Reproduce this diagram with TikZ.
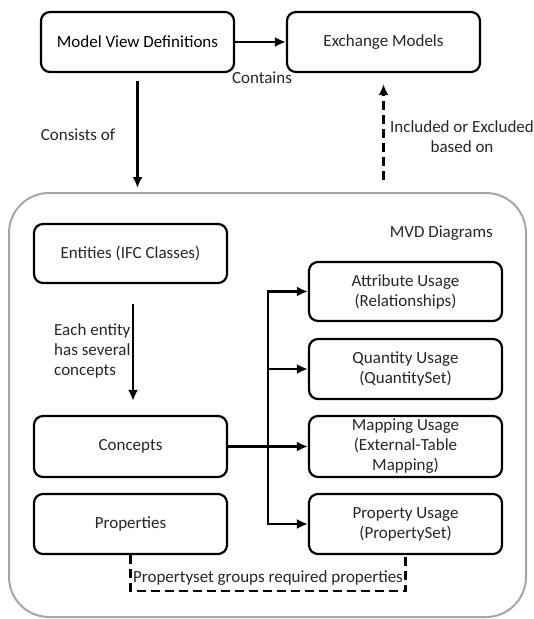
\documentclass[tikz,border=0pt]{standalone}
\usepackage{fontspec}
\setmainfont{Carlito}
\usetikzlibrary{arrows.meta}
\definecolor{txt}{HTML}{262626}
\definecolor{framegray}{HTML}{A6A6A6}

\begin{document}
\begin{tikzpicture}[x=1pt,y=-1pt,
  box/.style={draw=black, line width=2.2pt, rounded corners=9pt,
    minimum width=193pt, minimum height=60pt, inner sep=0pt,
    align=center, text=txt, font=\fontsize{17}{20}\selectfont},
  flow/.style={line width=2.4pt, -{Latex[length=11pt,width=10pt]}},
  dashflow/.style={flow, dash pattern=on 9pt off 5pt},
  lbl/.style={text=txt, font=\fontsize{17}{20}\selectfont, inner sep=0pt}
]
\useasboundingbox (0,0) rectangle (534,619);

% outer MVD container
\node[draw=framegray, line width=2pt, rounded corners=40pt,
      minimum width=517pt, minimum height=424pt, inner sep=0pt] (frame) at (267.5,405) {};
\node[lbl, anchor=east] (frametitle) at (493,233) {MVD Diagrams};

% top row
\node[box, text=black] (mvd) at (137.5,42) {Model View Definitions};
\node[box] (em) at (383.5,42) {Exchange Models};

% left column
\node[box, minimum height=59pt] (ent) at (130.5,253.5) {Entities (IFC Classes)};
\node[box, minimum height=61pt] (conc) at (130.5,446.5) {Concepts};
\node[box] (props) at (130.5,524) {Properties};

% right column
\node[box, minimum height=59pt] (attr) at (405.5,291.5) {Attribute Usage\\(Relationships)};
\node[box] (qty) at (405.5,369) {Quantity Usage\\(QuantitySet)};
\node[box, minimum height=61pt] (map) at (405.5,446.5) {Mapping Usage\\(External-Table\\Mapping)};
\node[box] (prop) at (405.5,524) {Property Usage\\(PropertySet)};

% top connectors
\draw[flow] (mvd.east) -- (em.west);
\node[lbl] (contains) at (262,78) {Contains};

\coordinate (consend) at (137.5,188);
\draw[flow] ([yshift=-8pt]mvd.south) -- (consend);
\node[lbl] (consists) at (78,135) {Consists of};

\coordinate (inclstart) at (383.5,180);
\draw[dashflow] (inclstart) -- ([yshift=-11pt]em.south);
\node[lbl, align=center] (incl) at (462,137) {Included or Excluded\\based on};

% entity to concepts
\draw[flow] ([xshift=2.5pt,yshift=-20pt]ent.south) -- ([xshift=2.5pt,yshift=14pt]conc.north);
\node[lbl, align=left, anchor=west] (each) at (54,351) {Each entity\\has several\\concepts};

% concepts to the usage boxes
\coordinate (busx) at (268,0);
\draw[line width=2.4pt, line cap=rect] (busx |- attr.west) -- (busx |- prop.west);
\foreach \n in {attr,qty,prop}
  \draw[flow] (busx |- \n.west) -- (\n.west);
\draw[flow] (conc.east) -- (map.west);

% properties grouped by property sets
\draw[line width=2.4pt, dash pattern=on 9pt off 5pt] (props.south) -- ++(0,36) -| (prop.south);
\node[lbl] (grp) at (268,578) {Propertyset groups required properties};
\end{tikzpicture}
\end{document}
